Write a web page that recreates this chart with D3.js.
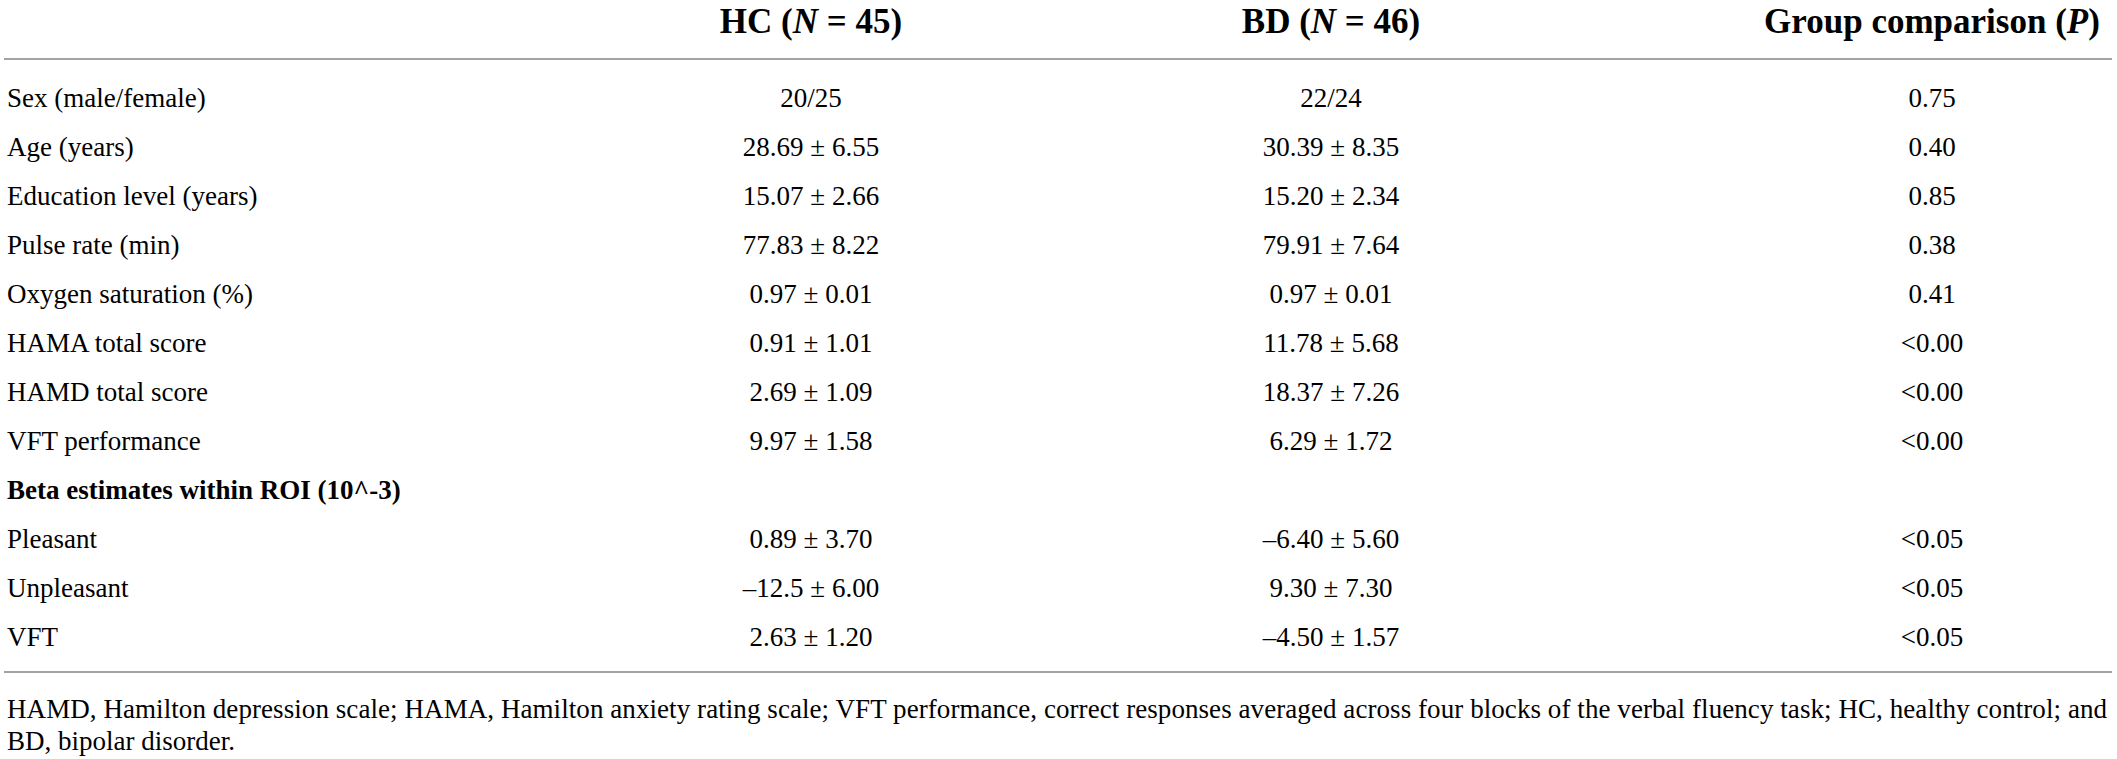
<!DOCTYPE html>
<html>
<head>
<meta charset="utf-8">
<script src="https://cdn.jsdelivr.net/npm/d3@7"></script>
<style>
  body { margin: 0; background: #fff; }
  text { font-family: "Liberation Serif", "Times New Roman", serif; fill: #000; }
</style>
</head>
<body>
<div id="table-fig"></div>
<script>
const fig_width = 2117
const fig_height = 759

// table content
const columns = ['HC', 'BD', 'P']
const header_main = ['HC (', 'BD (', 'Group comparison (']
const header_n = ['45', '46', null]

const row_labels = [
    'Sex (male/female)',
    'Age (years)',
    'Education level (years)',
    'Pulse rate (min)',
    'Oxygen saturation (%)',
    'HAMA total score',
    'HAMD total score',
    'VFT performance',
    'Beta estimates within ROI (10^-3)',
    'Pleasant',
    'Unpleasant',
    'VFT'
]
const section_rows = ['Beta estimates within ROI (10^-3)']

const hc_values = ['20/25', '28.69 ± 6.55', '15.07 ± 2.66', '77.83 ± 8.22', '0.97 ± 0.01',
    '0.91 ± 1.01', '2.69 ± 1.09', '9.97 ± 1.58', '', '0.89 ± 3.70', '–12.5 ± 6.00', '2.63 ± 1.20']
const bd_values = ['22/24', '30.39 ± 8.35', '15.20 ± 2.34', '79.91 ± 7.64', '0.97 ± 0.01',
    '11.78 ± 5.68', '18.37 ± 7.26', '6.29 ± 1.72', '', '–6.40 ± 5.60', '9.30 ± 7.30', '–4.50 ± 1.57']
const p_values = ['0.75', '0.40', '0.85', '0.38', '0.41', '<0.00', '<0.00', '<0.00', '',
    '<0.05', '<0.05', '<0.05']

const footnote_lines = [
    'HAMD, Hamilton depression scale; HAMA, Hamilton anxiety rating scale; VFT performance, correct responses averaged across four blocks of the verbal fluency task; HC, healthy control; and',
    'BD, bipolar disorder.'
]

let body_size = 27
let header_size = 35
let rule_colour = '#a3a3a3'

let fig = d3.select('#table-fig')
    .append('svg')
    .attr('width', fig_width)
    .attr('height', fig_height)

// rows sit on baselines spread evenly between the two rules
let yScale = d3.scalePoint()
    .domain(row_labels)
    .range([107, 646])

let xScale = d3.scaleOrdinal()
    .domain(columns)
    .range([811, 1331, 1932])

// header
let headerSelect = fig.selectAll('text.colhead')
    .data(columns)
    .join('text')
    .attr('class', 'colhead')
    .attr('x', d => xScale(d))
    .attr('y', 33)
    .attr('text-anchor', 'middle')
    .style('font-size', header_size + 'px')
    .style('font-weight', 'bold')

headerSelect.each(function(d, i) {
    let t = d3.select(this)
    t.append('tspan').text(header_main[i])
    if (header_n[i]) {
        t.append('tspan').style('font-style', 'italic').text('N')
        t.append('tspan').text(' = ' + header_n[i] + ')')
    } else {
        t.append('tspan').style('font-style', 'italic').text('P')
        t.append('tspan').text(')')
    }
})

// rules
let rules = [59, 672]
fig.selectAll('line.rule')
    .data(rules)
    .join('line')
    .attr('class', 'rule')
    .attr('x1', 4)
    .attr('x2', 2112)
    .attr('y1', d => d)
    .attr('y2', d => d)
    .style('stroke', rule_colour)
    .style('stroke-width', 2)

// row labels
fig.selectAll('text.rowlab')
    .data(row_labels)
    .join('text')
    .attr('class', 'rowlab')
    .attr('x', 7)
    .attr('y', d => yScale(d))
    .style('font-size', body_size + 'px')
    .style('font-weight', d => section_rows.includes(d) ? 'bold' : 'normal')
    .text(d => d)

// value cells
let cell_data = row_labels.flatMap((r, i) => [
    {row: r, col: 'HC', value: hc_values[i]},
    {row: r, col: 'BD', value: bd_values[i]},
    {row: r, col: 'P', value: p_values[i]}
]).filter(c => c.value !== '')

fig.selectAll('text.cell')
    .data(cell_data)
    .join('text')
    .attr('class', 'cell')
    .attr('x', d => xScale(d.col))
    .attr('y', d => yScale(d.row))
    .attr('text-anchor', 'middle')
    .style('font-size', body_size + 'px')
    .text(d => d.value)

// footnote, first line justified to the table width like the original
fig.selectAll('text.foot')
    .data(footnote_lines)
    .join('text')
    .attr('class', 'foot')
    .attr('x', 7)
    .attr('y', (d, i) => 718 + i * 32)
    .style('font-size', body_size + 'px')
    .attr('textLength', (d, i) => i === 0 ? 2100 : null)
    .attr('lengthAdjust', 'spacing')
    .text(d => d)
</script>
</body>
</html>
